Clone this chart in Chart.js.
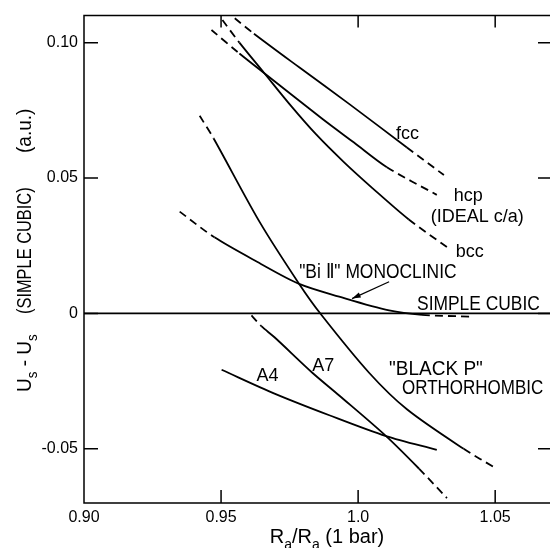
<!DOCTYPE html>
<html>
<head>
<meta charset="utf-8">
<script src="https://cdn.jsdelivr.net/npm/chart.js@4.4.1/dist/chart.umd.min.js"></script>
<style>
  html, body { margin: 0; padding: 0; background: #fff; overflow: hidden; }
  #wrap { width: 550px; height: 548px; position: relative; }
</style>
</head>
<body>
<div id="wrap"><canvas id="chart"></canvas></div>
<script>
// values: x = Ra/Ra(1 bar), y = Us - Us(simple cubic) in a.u.
let fccX = [0.955, 0.962, 0.9785, 0.9967, 1.0178, 1.0313];
let fccY = [0.109, 0.1033, 0.0909, 0.0774, 0.0613, 0.0511];

let hcpX = [0.9465, 0.9567, 0.9658, 0.9869, 0.9985, 1.0105, 1.0287];
let hcpY = [0.1047, 0.096, 0.0887, 0.0719, 0.0631, 0.054, 0.0438];

let bccX = [0.9505, 0.9567, 0.9658, 0.9749, 0.9847, 0.9949, 1.0051, 1.0185, 1.0324];
let bccY = [0.1084, 0.1, 0.0887, 0.0774, 0.0661, 0.0558, 0.0464, 0.0347, 0.0245];

let blackPX = [0.9422, 0.9473, 0.964, 0.9785, 0.9865, 1.004, 1.0178, 1.0385, 1.0505];
let blackPY = [0.073, 0.0646, 0.0339, 0.0109, -0.0004, -0.0219, -0.0354, -0.05, -0.0573];

let biX = [0.9349, 0.9476, 0.9633, 0.9785, 0.9931, 1.0113, 1.0233, 1.0415];
let biY = [0.0376, 0.0281, 0.019, 0.0109, 0.0062, 0.0011, -0.0005, -0.0012];

let a7X = [0.9611, 0.9647, 0.9695, 0.9833, 0.9931, 1.0102, 1.0222, 1.0324];
let a7Y = [-0.0007, -0.0047, -0.0088, -0.0219, -0.0303, -0.0453, -0.0573, -0.0682];

let a4X = [0.9502, 0.9695, 0.9895, 1.0102, 1.0287];
let a4Y = [-0.0208, -0.0296, -0.0376, -0.0453, -0.0504];

let simpleX = [0.90, 1.07];
let simpleY = [0, 0];

let xTicks = [0.90, 0.95, 1.0, 1.05];
let xTickLabels = ['0.90', '0.95', '1.0', '1.05'];
let yTicks = [0.10, 0.05, 0, -0.05];
let yTickLabels = ['0.10', '0.05', '0', '-0.05'];

let FONT = '"Liberation Sans", Arial, sans-serif';

function pts(xs, ys) {
  return xs.map((v, i) => ({x: v, y: ys[i]}));
}

// solid curve; dashEnds makes the first and last piece dashed like the original
function curve(xs, ys, dashEnds) {
  let n = xs.length;
  return {
    data: pts(xs, ys),
    showLine: true,
    pointRadius: 0,
    borderColor: '#000',
    borderWidth: 1.8,
    tension: 0.3,
    segment: {
      borderDash: c => (dashEnds && (c.p0DataIndex === 0 || c.p1DataIndex === n - 1)) ? [8, 5] : undefined
    }
  };
}

function txt(ctx, s, x, y, size, sx) {
  ctx.save();
  ctx.font = size + 'px ' + FONT;
  ctx.translate(x, y);
  ctx.scale(sx || 1, 1);
  ctx.fillText(s, 0, 0);
  let w = ctx.measureText(s).width * (sx || 1);
  ctx.restore();
  return w;
}

// text with subscripts: parts = [[text, isSub], ...]
function subText(ctx, parts, x, y, size, sx) {
  let cx = x;
  parts.forEach(p => {
    if (p[1]) cx += txt(ctx, p[0], cx, y + size * 0.28, size * 0.7, sx);
    else cx += txt(ctx, p[0], cx, y, size, sx);
  });
  return cx - x;
}

let notes = [
  ['fcc', 1.0138, 0.0646, 18, 1],
  ['hcp', 1.0349, 0.0416, 18, 1],
  ['(IDEAL c/a)', 1.0265, 0.0339, 18, 1],
  ['bcc', 1.0356, 0.0208, 18, 1],
  ['"Bi \u2161" MONOCLINIC', 0.9785, 0.0131, 20, 0.87],
  ['SIMPLE CUBIC', 1.0215, 0.0011, 20, 0.87],
  ['"BLACK P"', 1.0113, -0.0226, 20, 0.95],
  ['ORTHORHOMBIC', 1.016, -0.0296, 20, 0.85],
  ['A7', 0.9833, -0.0212, 18, 1],
  ['A4', 0.9629, -0.0248, 18, 1]
];

let decor = {
  id: 'decor',
  afterDraw(chart) {
    let ctx = chart.ctx;
    let a = chart.chartArea;
    let sx = chart.scales.x, sy = chart.scales.y;
    ctx.save();
    ctx.strokeStyle = '#000';
    ctx.fillStyle = '#000';
    ctx.lineWidth = 1.5;

    // frame (right edge falls off the page in the original)
    ctx.beginPath();
    ctx.moveTo(a.right, a.top);
    ctx.lineTo(a.left, a.top);
    ctx.lineTo(a.left, a.bottom);
    ctx.lineTo(a.right, a.bottom);
    ctx.stroke();

    // inward ticks
    ctx.beginPath();
    xTicks.forEach(v => {
      let px = sx.getPixelForValue(v);
      if (px - a.left < 2) return;
      ctx.moveTo(px, a.bottom); ctx.lineTo(px, a.bottom - 13);
      ctx.moveTo(px, a.top); ctx.lineTo(px, a.top + 12);
    });
    yTicks.forEach(v => {
      let py = sy.getPixelForValue(v);
      ctx.moveTo(a.left, py); ctx.lineTo(a.left + 14, py);
      ctx.moveTo(a.right, py); ctx.lineTo(a.right - 12, py);
    });
    ctx.stroke();

    // curve labels
    ctx.textBaseline = 'alphabetic';
    ctx.textAlign = 'left';
    notes.forEach(n => {
      txt(ctx, n[0], sx.getPixelForValue(n[1]), sy.getPixelForValue(n[2]), n[3], n[4]);
    });

    // arrow from the Bi II label to its curve
    let tx = sx.getPixelForValue(1.0113), ty = sy.getPixelForValue(0.0117);
    let hx = sx.getPixelForValue(0.9978), hy = sy.getPixelForValue(0.0055);
    let ang = Math.atan2(hy - ty, hx - tx);
    ctx.lineWidth = 1.3;
    ctx.beginPath();
    ctx.moveTo(tx, ty); ctx.lineTo(hx, hy);
    ctx.stroke();
    ctx.beginPath();
    ctx.moveTo(hx, hy);
    ctx.lineTo(hx - 9 * Math.cos(ang - 0.3), hy - 9 * Math.sin(ang - 0.3));
    ctx.lineTo(hx - 9 * Math.cos(ang + 0.3), hy - 9 * Math.sin(ang + 0.3));
    ctx.closePath();
    ctx.fill();

    // x title
    let xParts = [['R', 0], ['a', 1], ['/R', 0], ['a', 1], [' (1 bar)', 0]];
    ctx.globalAlpha = 0;
    let w = subText(ctx, xParts, 0, 0, 20, 1);
    ctx.globalAlpha = 1;
    subText(ctx, xParts, 327 - w / 2, 543, 20, 1);

    // y title, rotated
    ctx.save();
    ctx.translate(31, 392);
    ctx.rotate(-Math.PI / 2);
    subText(ctx, [['U', 0], ['s', 1], [' - U', 0], ['s', 1]], 0, 0, 20, 0.95);
    ctx.restore();
    ctx.save();
    ctx.translate(31, 314);
    ctx.rotate(-Math.PI / 2);
    txt(ctx, '(SIMPLE CUBIC)', 0, 0, 20, 0.82);
    ctx.restore();
    ctx.save();
    ctx.translate(31, 153);
    ctx.rotate(-Math.PI / 2);
    txt(ctx, '(a.u.)', 0, 0, 20, 0.95);
    ctx.restore();

    ctx.restore();
  }
};

new Chart(document.getElementById('chart'), {
  type: 'scatter',
  data: {
    datasets: [
      curve(simpleX, simpleY, false),
      curve(fccX, fccY, true),
      curve(hcpX, hcpY, true),
      curve(bccX, bccY, true),
      curve(blackPX, blackPY, true),
      curve(biX, biY, true),
      curve(a7X, a7Y, true),
      curve(a4X, a4Y, false)
    ]
  },
  options: {
    responsive: true,
    maintainAspectRatio: false,
    animation: false,
    devicePixelRatio: 1,
    layout: { padding: { top: 10, right: 0, left: 0, bottom: 0 } },
    plugins: { legend: { display: false }, tooltip: { enabled: false } },
    scales: {
      x: {
        type: 'linear',
        min: 0.90,
        max: 1.07,
        afterBuildTicks: s => { s.ticks = xTicks.map(v => ({value: v})); },
        afterFit: s => { s.height = 45; },
        grid: { display: false, drawTicks: false },
        border: { display: false },
        ticks: {
          autoSkip: false,
          maxRotation: 0,
          padding: 5,
          color: '#000',
          font: { family: FONT, size: 16 },
          callback: (v, i) => xTickLabels[i]
        }
      },
      y: {
        type: 'linear',
        min: -0.07,
        max: 0.11,
        afterBuildTicks: s => { s.ticks = yTicks.map(v => ({value: v})); },
        afterFit: s => { s.width = 84; },
        grid: { display: false, drawTicks: false },
        border: { display: false },
        ticks: {
          autoSkip: false,
          padding: 6,
          color: '#000',
          font: { family: FONT, size: 16 },
          callback: (v, i) => yTickLabels[i]
        }
      }
    }
  },
  plugins: [decor]
});
</script>
</body>
</html>
